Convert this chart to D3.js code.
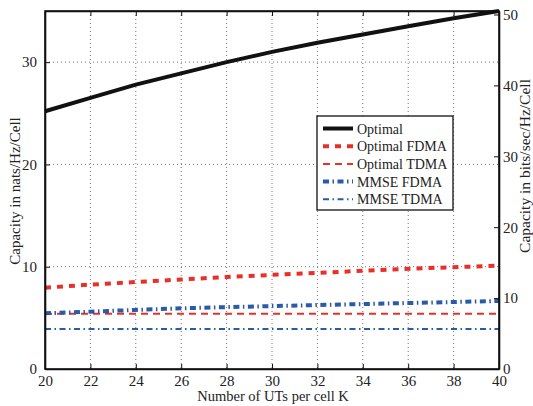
<!DOCTYPE html>
<html>
<head>
<meta charset="utf-8">
<script src="https://cdn.jsdelivr.net/npm/d3@7"></script>
<style>
  body { margin: 0; background: #fff; }
  text { font-family: "Liberation Serif", "Times New Roman", serif; fill: #222; }
</style>
</head>
<body>
<div class="canva"></div>
<script>
// number of UTs per cell
const users = [20, 22, 24, 26, 28, 30, 32, 34, 36, 38, 40];

// capacity in nats/Hz/Cell
const optimal      = [25.2, 26.5, 27.8, 28.9, 30.0, 31.0, 31.9, 32.7, 33.5, 34.3, 35.0];
const optimalFdma  = [7.95, 8.25, 8.5, 8.75, 9.0, 9.2, 9.4, 9.6, 9.8, 9.95, 10.1];
const optimalTdma  = [5.4, 5.4, 5.4, 5.4, 5.4, 5.4, 5.4, 5.4, 5.4, 5.4, 5.4];
const mmseFdma     = [5.45, 5.6, 5.78, 5.93, 6.05, 6.15, 6.25, 6.35, 6.45, 6.55, 6.65];
const mmseTdma     = [3.9, 3.9, 3.9, 3.9, 3.9, 3.9, 3.9, 3.9, 3.9, 3.9, 3.9];

const xTicks = [20, 22, 24, 26, 28, 30, 32, 34, 36, 38, 40];
const yTicks = [0, 10, 20, 30];
const y2Ticks = [0, 10, 20, 30, 40, 50];

const series = [
  {name: "Optimal",       values: optimal,     color: "#111", width: 4,   dash: null},
  {name: "Optimal FDMA",  values: optimalFdma, color: "#e8302a", width: 4, dash: "6,6"},
  {name: "Optimal TDMA",  values: optimalTdma, color: "#e8302a", width: 2, dash: "7,5"},
  {name: "MMSE FDMA",     values: mmseFdma,    color: "#2a5aa8", width: 4, dash: "6,3.5,1.5,3.5"},
  {name: "MMSE TDMA",     values: mmseTdma,    color: "#2a5aa8", width: 2, dash: "6,3.5,1.5,3.5"}
];

const W = 533, H = 406;
const m = {left: 45, right: 34, top: 11, bottom: 37};

const svg = d3.select(".canva").append("svg")
    .attr("width", W)
    .attr("height", H);

const x = d3.scaleLinear().domain([20, 40]).range([m.left, W - m.right]);
const y = d3.scaleLinear().domain([0, 35]).range([H - m.bottom, m.top]);
// bits = nats * log2(e)
const y2 = d3.scaleLinear().domain([0, 35 * Math.LOG2E]).range([H - m.bottom, m.top]);

// dotted grid
const grid = svg.append("g")
    .attr("stroke", "#777")
    .attr("stroke-width", 1)
    .attr("stroke-dasharray", "1,3");
grid.selectAll(".gx").data(xTicks.slice(1, -1)).enter().append("line")
    .attr("x1", d => x(d)).attr("x2", d => x(d))
    .attr("y1", m.top).attr("y2", H - m.bottom);
grid.selectAll(".gy").data(yTicks.slice(1)).enter().append("line")
    .attr("x1", m.left).attr("x2", W - m.right)
    .attr("y1", d => y(d)).attr("y2", d => y(d));

// lines
const line = d3.line()
    .x((d, i) => x(users[i]))
    .y(d => y(d));

svg.selectAll(".series").data(series).enter().append("path")
    .attr("d", d => line(d.values))
    .attr("fill", "none")
    .attr("stroke", d => d.color)
    .attr("stroke-width", d => d.width)
    .attr("stroke-dasharray", d => d.dash);

// axes, ticks pointing inward
const fs = "15px";
svg.append("g")
    .attr("transform", `translate(0,${H - m.bottom})`)
    .call(d3.axisBottom(x).tickValues(xTicks).tickSizeInner(-5).tickSizeOuter(0).tickPadding(6))
    .call(g => g.selectAll("text").style("font-size", fs).attr("font-family", null));

svg.append("g")
    .attr("transform", `translate(0,${m.top})`)
    .call(d3.axisTop(x).tickValues(xTicks).tickSizeInner(-5).tickSizeOuter(0).tickFormat(""));

svg.append("g")
    .attr("transform", `translate(${m.left},0)`)
    .call(d3.axisLeft(y).tickValues(yTicks).tickSizeInner(-5).tickSizeOuter(0).tickPadding(8))
    .call(g => g.selectAll("text").style("font-size", fs).attr("font-family", null));

svg.append("g")
    .attr("transform", `translate(${W - m.right},0)`)
    .call(d3.axisRight(y2).tickValues(y2Ticks).tickSizeInner(-5).tickSizeOuter(0).tickPadding(4))
    .call(g => g.selectAll("text").style("font-size", fs).attr("font-family", null));

svg.selectAll(".domain").attr("stroke", "#111").attr("stroke-width", 1.6);
svg.selectAll(".tick line").attr("stroke", "#111");

// frame
svg.append("rect")
    .attr("x", m.left).attr("y", m.top)
    .attr("width", W - m.left - m.right).attr("height", H - m.top - m.bottom)
    .attr("fill", "none").attr("stroke", "#111").attr("stroke-width", 1.6);

// axis titles
svg.append("text")
    .attr("x", (m.left + W - m.right) / 2 + 1)
    .attr("y", 401)
    .attr("text-anchor", "middle")
    .style("font-size", "14.5px")
    .text("Number of UTs per cell K");

svg.append("text")
    .attr("transform", `translate(20,191) rotate(-90)`)
    .attr("text-anchor", "middle")
    .style("font-size", "15px")
    .text("Capacity in nats/Hz/Cell");

svg.append("text")
    .attr("transform", `translate(530,166) rotate(-90)`)
    .attr("text-anchor", "middle")
    .style("font-size", "15.5px")
    .text("Capacity in bits/sec/Hz/Cell");

// legend
const lg = svg.append("g").attr("transform", "translate(317,116)");
lg.append("rect")
    .attr("width", 136).attr("height", 94)
    .attr("fill", "#fff").attr("stroke", "#111").attr("stroke-width", 1.3);

const item = lg.selectAll(".item").data(series).enter().append("g")
    .attr("transform", (d, i) => `translate(0,${12.5 + i * 17.7})`);
item.append("line")
    .attr("x1", 6).attr("x2", 36)
    .attr("stroke", d => d.color)
    .attr("stroke-width", d => d.width)
    .attr("stroke-dasharray", d => d.dash);
item.append("text")
    .attr("x", 40).attr("y", 5)
    .style("font-size", "14px")
    .text(d => d.name);
</script>
</body>
</html>
